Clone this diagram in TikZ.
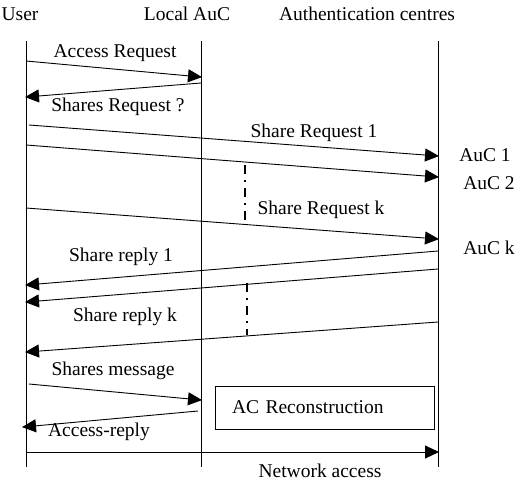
\documentclass[tikz,border=0pt]{standalone}
\usepackage{fontspec}
\setmainfont{Liberation Serif}
\usepackage{tikz}
\usetikzlibrary{arrows.meta,positioning}
\tikzset{
  lifeline/.style={draw=black,line width=0.9pt},
  msg/.style={-{Triangle[length=14pt,width=13pt]},line width=0.9pt,draw=black,shorten >=-1pt},
  lbl/.style={inner sep=0pt,font=\fontsize{19.5}{22}\selectfont},
  gap/.style={draw=black,line width=2.6pt,dash pattern=on 9pt off 6pt on 2pt off 6pt},
  procbox/.style={draw=black,line width=0.9pt,minimum width=219pt,minimum height=43pt,
    text width=185pt,inner xsep=17pt,align=left,font=\fontsize{19.5}{22}\selectfont}
}
\begin{document}
\begin{tikzpicture}[x=1pt,y=-1pt]
  \useasboundingbox (0,0) rectangle (518,482);

  % headers
  \node[lbl] (huser) at (20,14) {User};
  \node[lbl] (hlocal) at (187,14) {Local AuC};
  \node[lbl] (hauth) at (367,14) {Authentication centres};

  % lifelines
  \coordinate (usertop) at (26,41);   \coordinate (userbot) at (26,467);
  \coordinate (localtop) at (201,41); \coordinate (localbot) at (201,467);
  \coordinate (authtop) at (438,41);  \coordinate (authbot) at (438,467);
  \draw[lifeline] (usertop) -- (userbot);
  \draw[lifeline] (localtop) -- (localbot);
  \draw[lifeline] (authtop) -- (authbot);

  % message end points
  \coordinate (m1a) at (26,61);   \coordinate (m1b) at (201,77);
  \coordinate (m2a) at (201,83);  \coordinate (m2b) at (26,97);
  \coordinate (m3a) at (29,125);  \coordinate (m3b) at (438,156);
  \coordinate (m4a) at (26,145);  \coordinate (m4b) at (438,177);
  \coordinate (m5a) at (26,208);  \coordinate (m5b) at (438,239);
  \coordinate (m6a) at (438,251); \coordinate (m6b) at (26,285);
  \coordinate (m7a) at (438,269); \coordinate (m7b) at (26,302);
  \coordinate (m8a) at (438,322); \coordinate (m8b) at (26,352);
  \coordinate (m9a) at (29,384);  \coordinate (m9b) at (201,400);
  \coordinate (m10a) at (198,411); \coordinate (m10b) at (23,427);
  \coordinate (m11a) at (26,452); \coordinate (m11b) at (438,452);

  \draw[msg] (m1a) -- (m1b);
  \draw[msg] (m2a) -- (m2b);
  \draw[msg] (m3a) -- (m3b);
  \draw[msg] (m4a) -- (m4b);
  \draw[msg] (m5a) -- (m5b);
  \draw[msg] (m6a) -- (m6b);
  \draw[msg] (m7a) -- (m7b);
  \draw[msg] (m8a) -- (m8b);
  \draw[msg] (m9a) -- (m9b);
  \draw[msg] (m10a) -- (m10b);
  \draw[msg] (m11a) -- (m11b);

  % skipped messages
  \coordinate (g1a) at (245,165); \coordinate (g1b) at (245,220);
  \coordinate (g2a) at (247,283); \coordinate (g2b) at (247,335);
  \draw[gap] (g1a) -- (g1b);
  \draw[gap] (g2a) -- (g2b);

  % labels
  \node[lbl] (accreq) at (115,53) {Access Request};
  \node[lbl] (sharesreq) at (118,107) {Shares Request ?};
  \node[lbl] (req1) at (314,133) {Share Request 1};
  \node[lbl] (reqk) at (321,210) {Share Request k};
  \node[lbl] (auc1) at (485,155) {AuC 1};
  \node[lbl] (auc2) at (489,183) {AuC 2};
  \node[lbl] (auck) at (489,248) {AuC k};
  \node[lbl] (rep1) at (121,257) {Share reply 1};
  \node[lbl] (repk) at (125,317) {Share reply k};
  \node[lbl] (sharesmsg) at (113,371) {Shares message};
  \node[lbl] (accrep) at (99,432) {Access-reply};
  \node[lbl] (netacc) at (320,471) {Network access};

  \node[procbox] (acrec) at (324.5,407.5) {AC Reconstruction};
\end{tikzpicture}
\end{document}
